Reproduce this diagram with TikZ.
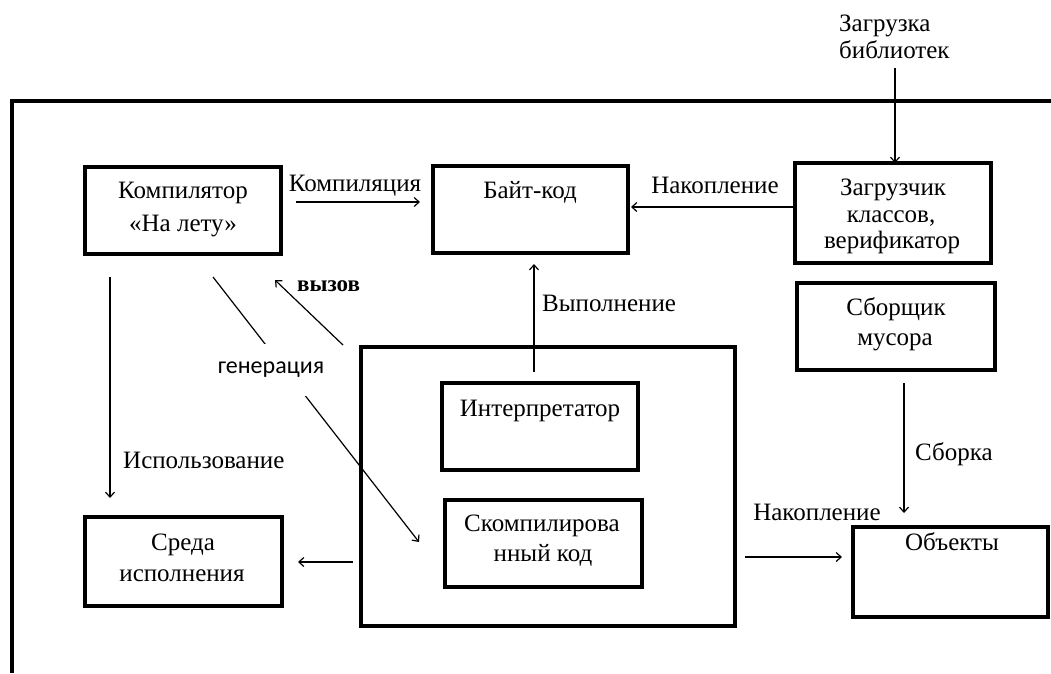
\documentclass[tikz,border=0pt]{standalone}
\usepackage{fontspec}
\setmainfont{Liberation Serif}
\newfontfamily\gensans{Carlito}
\usetikzlibrary{arrows.meta}
\begin{document}
\begin{tikzpicture}[x=1pt,y=-1pt,
  box/.style={draw, line width=3.4pt, inner sep=0pt, outer sep=0pt},
  frame/.style={line width=3.6pt},
  txt/.style={inner sep=0pt, anchor=base, font=\fontsize{25}{30}\selectfont},
  arr/.style={line width=1.2pt, -{Straight Barb[length=5pt,width=9pt,line width=1.2pt]}}
]
% page
\fill[white] (0,0) rectangle (1051,673);
\useasboundingbox (0,0) rectangle (1051,673);

% outer frame of the virtual machine (top and left edges)
\draw[frame] (1051,101) -- (12,101) -- (12,673);

% boxes
\node[box, minimum width=196, minimum height=87] (jit)    at (183,210.5) {};
\node[box, minimum width=195, minimum height=87] (bc)     at (530.5,209.5) {};
\node[box, minimum width=196, minimum height=100] (loader) at (893,213) {};
\node[box, minimum width=198, minimum height=87] (gc)     at (896,326.5) {};
\node[box, minimum width=374, minimum height=279] (vm)    at (548,486.5) {};
\node[box, minimum width=196, minimum height=87] (interp) at (540,426.5) {};
\node[box, minimum width=197, minimum height=87] (comp)   at (543.5,543.5) {};
\node[box, minimum width=197, minimum height=89] (env)    at (183.5,561.5) {};
\node[box, minimum width=195, minimum height=90] (obj)    at (950.5,572) {};

% box texts
\node[txt] (jit1) at (183,198) {Компилятор};
\node[txt] (jit2) at (183,231) {«На лету»};
\node[txt] (bc1) at (530,198) {Байт-код};
\node[txt] (ld1) at (893,195) {Загрузчик};
\node[txt] (ld2) at (891,222) {классов,};
\node[txt] (ld3) at (892,248) {верификатор};
\node[txt] (gc1) at (896,315) {Сборщик};
\node[txt] (gc2) at (895,345) {мусора};
\node[txt] (in1) at (540,416) {Интерпретатор};
\node[txt] (cp1) at (542,531) {Скомпилирова};
\node[txt] (cp2) at (543,561) {нный код};
\node[txt] (en1) at (183,550) {Среда};
\node[txt] (en2) at (182,581) {исполнения};
\node[txt] (ob1) at (952,550) {Объекты};

% free labels
\node[txt, anchor=base west] (lib1) at (839,31) {Загрузка};
\node[txt, anchor=base west] (lib2) at (839,58) {библиотек};
\node[txt] (lcomp) at (355,191) {Компиляция};
\node[txt] (lacc1) at (715,193) {Накопление};
\node[txt, anchor=base west] (lexec) at (542,311) {Выполнение};
\node[txt, anchor=base west] (lgc) at (915,460) {Сборка};
\node[txt] (lacc2) at (817,520) {Накопление};
\node[txt, anchor=base west] (luse) at (123,468) {Использование};
\node[txt, anchor=base west, font=\fontsize{23}{27}\selectfont\bfseries] (lcall) at (297,291) {вызов};

% connector end points
\coordinate (libtop) at (895,68);
\coordinate (cmpA) at (296,202);  \coordinate (cmpB) at (420,202);
\coordinate (accA) at (795,207);  \coordinate (accB) at (631,207);
\coordinate (exA) at (534,372);   \coordinate (exB) at (534,264);
\coordinate (callA) at (343,345); \coordinate (callB) at (275,280);
\coordinate (genA) at (213,277);  \coordinate (genB) at (419,542);
\coordinate (useA) at (110,277);  \coordinate (useB) at (110,498);
\coordinate (envA) at (353,562);  \coordinate (envB) at (298,562);
\coordinate (objA) at (745,557);  \coordinate (objB) at (842,557);
\coordinate (gcA) at (904,383);   \coordinate (gcB) at (904,513);

% connectors
\draw[arr] (libtop) -- (loader.north -| libtop);
\draw[arr] (cmpA) -- (cmpB);
\draw[arr] (accA) -- (accB);
\draw[arr] (exA) -- (exB);
\draw[arr] (callA) -- (callB);
\draw[arr] (genA) -- (genB);
\draw[arr] (useA) -- (useB);
\draw[arr] (envA) -- (envB);
\draw[arr] (objA) -- (objB);
\draw[arr] (gcA) -- (gcB);

% label sitting on the "generation" connector
\node[inner sep=0pt, fill=white, minimum height=52, minimum width=108,
      font=\gensans\fontsize{24}{29}\selectfont] (lgen) at (271,370) {генерация};
\end{tikzpicture}
\end{document}
